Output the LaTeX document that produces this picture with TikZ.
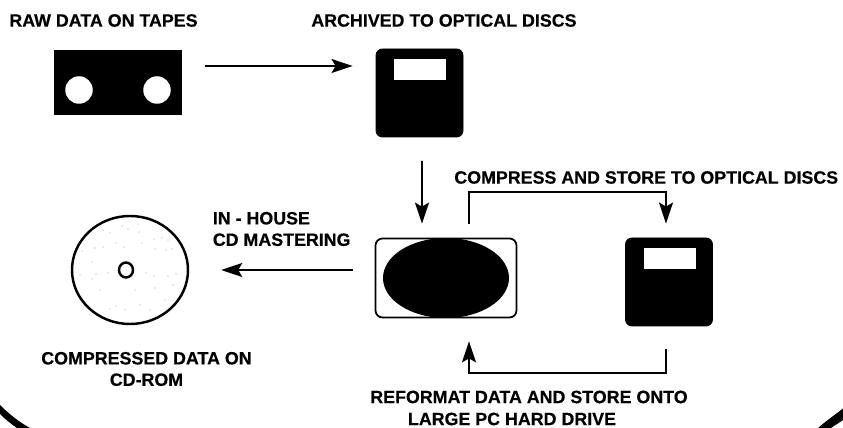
\documentclass[tikz,border=0pt]{standalone}
\usepackage{fontspec}
\setmainfont[BoldFeatures={FakeBold=0.4}]{Liberation Sans}
\usetikzlibrary{arrows.meta,shapes.geometric}
\def\px{0.02cm}
\tikzset{
  x=0.02cm,y=-0.02cm,
  lbl/.style={font=\fontsize{10.15pt}{12.2pt}\selectfont\bfseries,inner sep=0pt,align=center,text=black},
  solid box/.style={fill=black,draw=black,line width=0.5pt,inner sep=0pt},
  disc/.style={solid box,rounded corners=6.5*\px,minimum width=87*\px,minimum height=88*\px},
  win/.style={fill=white,draw=none,inner sep=0pt,minimum width=52*\px,minimum height=21*\px},
  hole/.style={circle,fill=white,inner sep=0pt,minimum size=27.5*\px},
  arr/.style={line width=1.05pt,-{Stealth[length=21*\px,width=14*\px,inset=4*\px]}},
}
\begin{document}
\begin{tikzpicture}
\useasboundingbox (0,0) rectangle (843,428);
% corner arcs
\fill (0,405) .. controls (9,414) and (19,422) .. (30,428) -- (17,428) .. controls (11,424) and (5,419) .. (0,414) -- cycle;
\fill (843,408.5) .. controls (836,414) and (826,421) .. (818,428) -- (831,428) .. controls (835,425) and (839,423) .. (843,420) -- cycle;
% labels
\node[lbl,anchor=west] (l1) at (9,20.5) {RAW DATA ON TAPES};
\node[lbl,anchor=west] (l2) at (311,20.5) {ARCHIVED TO OPTICAL DISCS};
\node[lbl,anchor=west] (l3) at (454,177.5) {COMPRESS AND STORE TO OPTICAL DISCS};
\node[lbl,align=left,anchor=west] (l4) at (212.5,229) {IN - HOUSE\\CD MASTERING};
\node[lbl] (l5) at (146.5,369) {COMPRESSED DATA ON\\CD-ROM};
\node[lbl] (l6) at (529,397) {REFORMAT DATA AND STORE ONTO};
\node[lbl] (l7) at (512,419) {LARGE PC HARD DRIVE};
% tape
\node[solid box,minimum width=127*\px,minimum height=64*\px] (tape) at (118,82) {};
\node[hole] (h1) at (79,90) {};
\node[hole] (h2) at (157,90) {};
% discs
\node[disc] (d1) at (419.5,93) {};
\node[win] (w1) at (419.5,70) {};
\node[disc] (d2) at (669,282) {};
\node[win] (w2) at (669.5,259) {};
% drive
\node[draw=black,line width=1pt,rounded corners=7*\px,minimum width=141*\px,minimum height=79*\px,inner sep=0pt] (drive) at (446,278) {};
\fill[black] (446,278) ellipse [x radius=63,y radius=40];
% CD
\node[draw=black,line width=1.4pt,ellipse,minimum width=116*\px,minimum height=108*\px,inner sep=0pt] (cd) at (130,270) {};
\node[draw=black,line width=1.4pt,ellipse,minimum width=14*\px,minimum height=15*\px,inner sep=0pt] (cdh) at (126,270) {};
\foreach \a/\b in {103/230,110/233,122/226,128/229,138/224,139/232,154/239,162/238,168/240,95/248,103/247,116/243,124/247,142/243,155/249,166/250,172/249,82/251,92/262,80/275,96/274,108/273,146/273,154/276,168/276,176/274,92/279,100/290,135/290,155/288,165/300,110/309,116/306,125/310,140/305,150/310,173/285}
  \fill[gray!70] (\a,\b) circle [radius=0.6];
% connectors
\coordinate (topy) at (0,192);
\coordinate (boty) at (0,373);
\coordinate (in1) at ([xshift=23*\px,yshift=14*\px]drive.north);
\coordinate (in2) at ([xshift=23*\px,yshift=-23*\px]drive.south);
\coordinate (o2) at ([xshift=-3*\px,yshift=14*\px]d2.north);
\coordinate (o3) at ([xshift=-3*\px,yshift=-23*\px]d2.south);
\draw[arr] ([yshift=16*\px,xshift=23*\px]tape.east) -- ([yshift=27*\px,xshift=-23*\px]d1.west);
\draw[arr] ([xshift=2.5*\px,yshift=-23.5*\px]d1.south) -- ([xshift=-24*\px,yshift=14*\px]drive.north);
\draw[arr] ([xshift=-22*\px,yshift=8*\px]drive.west) -- ([xshift=32*\px]cd.east);
\draw[arr] (in1) -- (in1 |- topy) -- (o2 |- topy) -- (o2);
\draw[arr] (o3) -- (o3 |- boty) -- (in2 |- boty) -- (in2);
\end{tikzpicture}
\end{document}
